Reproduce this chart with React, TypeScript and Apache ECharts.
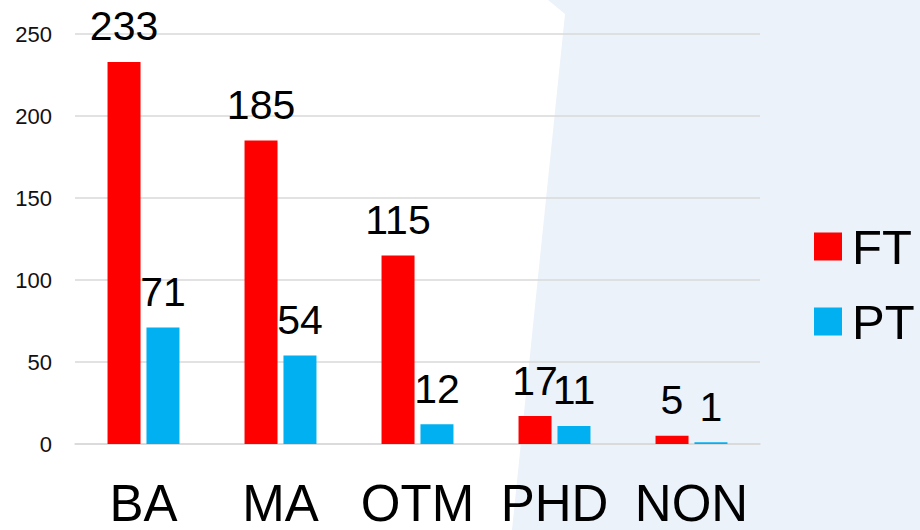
import React, { useEffect, useRef } from "react";
import * as echarts from "echarts";

const categories = ["BA", "MA", "OTM", "PHD", "NON"];
const ftValues = [233, 185, 115, 17, 5];
const ptValues = [71, 54, 12, 11, 1];
const yTicks = { min: 0, max: 250, interval: 50 };

export default function App() {
  const ref = useRef<HTMLDivElement>(null);
  useEffect(() => {
    document.body.style.margin = "0";
    const chart = echarts.init(ref.current!, null, { renderer: "svg" });
    const font = "'Liberation Sans', Arial, sans-serif";
    const label = {
      show: true,
      position: "top",
      distance: 15,
      fontSize: 41,
      color: "#000",
      fontFamily: font,
    };
    chart.setOption({
      animation: false,
      backgroundColor: "#ffffff",
      graphic: [
        {
          type: "polygon",
          z: -10,
          silent: true,
          shape: {
            points: [
              [548, 0],
              [565, 14],
              [512, 530],
              [920, 530],
              [920, 0],
            ],
          },
          style: { fill: "#ecf2fa" },
        },
      ],
      grid: { left: 75, right: 160, top: 34, bottom: 86 },
      legend: {
        orient: "vertical",
        left: 809,
        top: 217,
        itemWidth: 28,
        itemHeight: 28,
        itemGap: 26,
        icon: "rect",
        textStyle: {
          fontSize: 49,
          lineHeight: 49,
          color: "#000",
          fontFamily: font,
          padding: [0, 0, 0, 5],
        },
      },
      xAxis: {
        type: "category",
        data: categories,
        axisLine: { lineStyle: { color: "#d9d9d9", width: 1.5 } },
        axisTick: { show: false },
        axisLabel: {
          interval: 0,
          hideOverlap: false,
          fontSize: 51,
          lineHeight: 42,
          color: "#000",
          fontFamily: font,
          margin: 38,
        },
      },
      yAxis: {
        type: "value",
        min: yTicks.min,
        max: yTicks.max,
        interval: yTicks.interval,
        axisLine: { show: false },
        axisTick: { show: false },
        splitLine: { lineStyle: { color: "#d9d9d9", width: 1.5 } },
        axisLabel: { fontSize: 22, color: "#111", fontFamily: font, margin: 23 },
      },
      series: [
        {
          name: "FT",
          type: "bar",
          data: ftValues,
          itemStyle: { color: "#ff0000" },
          barWidth: 33,
          barGap: "18%",
          label,
        },
        {
          name: "PT",
          type: "bar",
          data: ptValues,
          itemStyle: { color: "#00b0f0" },
          barWidth: 33,
          label,
        },
      ],
    });
    return () => chart.dispose();
  }, []);
  return <div ref={ref} style={{ width: 920, height: 530 }} />;
}
